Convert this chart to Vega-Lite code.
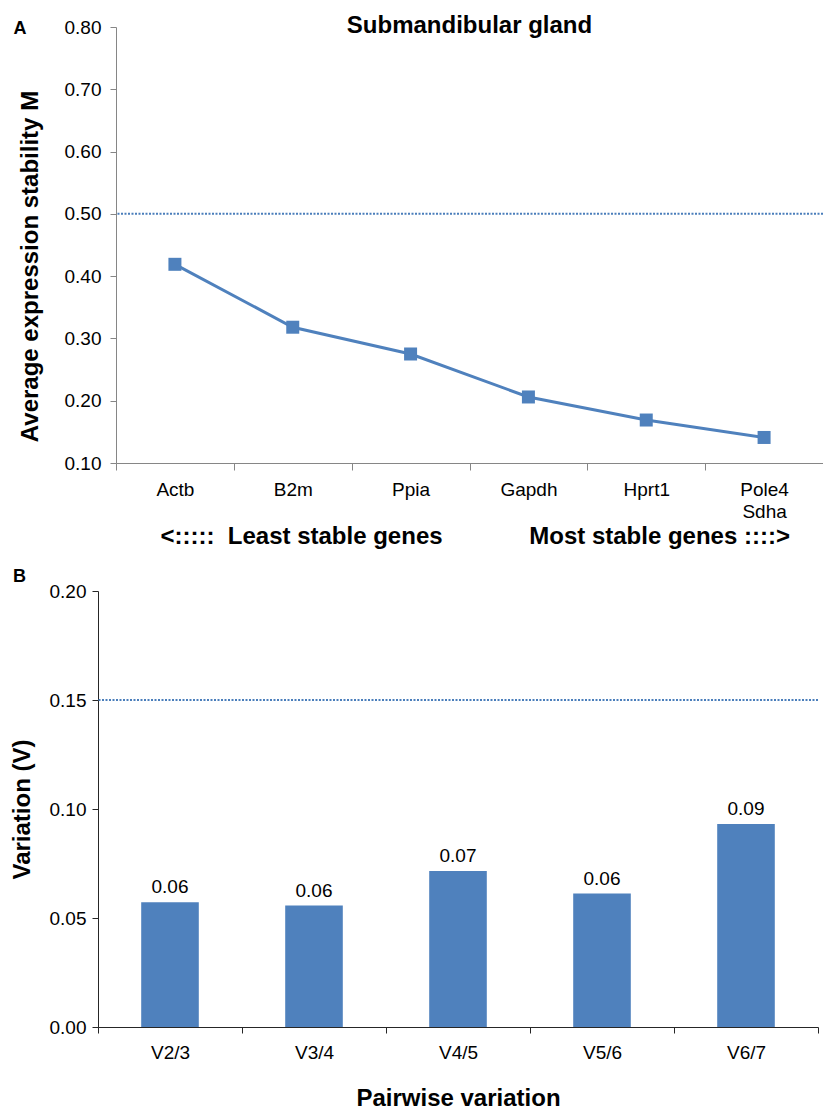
{
  "$schema": "https://vega.github.io/schema/vega-lite/v6.json",
  "background": "white",
  "padding": {"left": 10, "top": 14, "right": 0, "bottom": 0},
  "columns": 1,
  "spacing": 20,
  "concat": [
    {
      "hconcat": [
        {"width": 1, "height": 10, "data": {"values": []}, "mark": "point"},
        {
          "width": 707,
          "height": 436,
          "title": {"text": "Submandibular gland", "anchor": "middle", "frame": "group", "offset": -39, "fontSize": 24, "fontWeight": "bold", "font": "Liberation Sans", "baseline": "alphabetic", "color": "#000000"},
          "data": {"values": [
            {"gene": "Actb", "M": 0.419},
            {"gene": "B2m", "M": 0.318},
            {"gene": "Ppia", "M": 0.275},
            {"gene": "Gapdh", "M": 0.206},
            {"gene": "Hprt1", "M": 0.169},
            {"gene": "Pole4 Sdha", "M": 0.141}
          ]},
          "layer": [
            {
              "data": {"values": [{"threshold": 0.5}]},
              "mark": {"type": "rule", "strokeDash": [2, 1.5], "strokeWidth": 2, "color": "#4a7ebb"},
              "encoding": {"y": {"field": "threshold", "type": "quantitative"}}
            },
            {
              "mark": {"type": "line", "color": "#4F81BD", "strokeWidth": 3, "point": {"shape": "square", "size": 169, "filled": true, "color": "#4F81BD", "opacity": 1}},
              "encoding": {
                "x": {"field": "gene", "type": "nominal", "sort": null,
                  "scale": {"type": "band", "paddingInner": 0, "paddingOuter": 0},
                  "axis": {"title": "<:::::\u00a0\u00a0Least stable genes\u00a0\u00a0\u00a0\u00a0\u00a0\u00a0\u00a0\u00a0\u00a0\u00a0\u00a0\u00a0\u00a0Most stable genes ::::>",
                    "titleAnchor": "start", "titleX": 44, "titleY": 80, "titleBaseline": "alphabetic", "titleAlign": "left",
                    "titleFontSize": 24, "titleFontWeight": "bold", "titleColor": "#000000", "titleFont": "Liberation Sans",
                    "labelAngle": 0, "labelFontSize": 19, "labelFont": "Liberation Sans", "labelColor": "#000000", "labelPadding": 10,
                    "labelExpr": "split(datum.label, ' ')", "labelLineHeight": 22,
                    "tickSize": 7, "tickBand": "extent", "domainColor": "#868686", "tickColor": "#868686", "grid": false}},
                "y": {"field": "M", "type": "quantitative",
                  "scale": {"domain": [0.1, 0.8], "nice": false, "zero": false},
                  "axis": {"title": "Average expression stability M", "values": [0.1, 0.2, 0.3, 0.4, 0.5, 0.6, 0.7, 0.8], "format": ".2f",
                    "titleX": -79, "titleY": 239, "titleAngle": -90, "titleBaseline": "alphabetic", "titleAlign": "center",
                    "titleFontSize": 24, "titleFontWeight": "bold", "titleColor": "#000000", "titleFont": "Liberation Sans",
                    "labelFontSize": 19, "labelFont": "Liberation Sans", "labelColor": "#000000", "labelPadding": 9,
                    "tickSize": 6, "domainColor": "#868686", "tickColor": "#868686", "grid": false}}
              }
            },
            {
              "mark": {"type": "point", "opacity": 0},
              "encoding": {
                "x": {"field": "gene", "type": "nominal", "sort": null,
                  "axis": {"orient": "top", "title": "A", "labels": false, "ticks": false, "domain": false,
                    "titleAnchor": "start", "titleAlign": "left", "titleX": -103, "titleY": 6, "titleBaseline": "alphabetic",
                    "titleFontSize": 18, "titleFontWeight": "bold", "titleColor": "#000000", "titleFont": "Liberation Sans"}}
              }
            }
          ],
          "resolve": {"axis": {"x": "independent"}}
        }
      ],
      "spacing": 17,
      "bounds": "flush"
    },
    {
      "width": 720,
      "height": 436,
      "title": {"text": "B", "anchor": "start", "frame": "group", "dx": -85, "offset": -18, "fontSize": 18, "fontWeight": "bold", "font": "Liberation Sans", "baseline": "alphabetic", "color": "#000000"},
      "data": {"values": [
        {"pair": "V2/3", "V": 0.0572},
        {"pair": "V3/4", "V": 0.0557},
        {"pair": "V4/5", "V": 0.0716},
        {"pair": "V5/6", "V": 0.0612},
        {"pair": "V6/7", "V": 0.0931}
      ]},
      "layer": [
        {
          "data": {"values": [{"threshold": 0.15}]},
          "mark": {"type": "rule", "strokeDash": [2, 1.5], "strokeWidth": 2, "color": "#4a7ebb"},
          "encoding": {"y": {"field": "threshold", "type": "quantitative"}}
        },
        {
          "mark": {"type": "bar", "color": "#4F81BD", "width": {"band": 0.4}},
          "encoding": {
            "x": {"field": "pair", "type": "nominal", "sort": null,
              "scale": {"type": "band", "paddingInner": 0, "paddingOuter": 0},
              "axis": {"title": "Pairwise variation", "titleY": 78, "titleBaseline": "alphabetic",
                "titleFontSize": 24, "titleFontWeight": "bold", "titleColor": "#000000", "titleFont": "Liberation Sans",
                "labelAngle": 0, "labelFontSize": 19, "labelFont": "Liberation Sans", "labelColor": "#000000", "labelPadding": 10,
                "tickSize": 6, "tickBand": "extent", "domainColor": "#262626", "tickColor": "#262626", "grid": false}},
            "y": {"field": "V", "type": "quantitative",
              "scale": {"domain": [0, 0.2], "nice": false},
              "axis": {"title": "Variation (V)", "values": [0, 0.05, 0.1, 0.15, 0.2], "format": ".2f",
                "titleX": -69, "titleAngle": -90, "titleBaseline": "alphabetic",
                "titleFontSize": 24, "titleFontWeight": "bold", "titleColor": "#000000", "titleFont": "Liberation Sans",
                "labelFontSize": 19, "labelFont": "Liberation Sans", "labelColor": "#000000", "labelPadding": 6,
                "tickSize": 6, "domainColor": "#262626", "tickColor": "#262626", "grid": false}}
          }
        },
        {
          "mark": {"type": "text", "baseline": "alphabetic", "dy": -9, "fontSize": 19, "font": "Liberation Sans", "color": "#000000"},
          "encoding": {
            "x": {"field": "pair", "type": "nominal", "sort": null},
            "y": {"field": "V", "type": "quantitative"},
            "text": {"field": "V", "type": "quantitative", "format": ".2f"}
          }
        }
      ]
    }
  ],
  "config": {"view": {"stroke": null}, "font": "Liberation Sans"}
}
